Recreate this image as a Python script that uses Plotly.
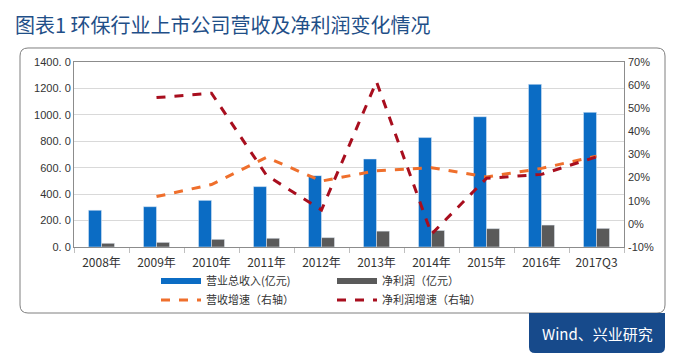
import plotly.graph_objects as go

categories = ["2008年", "2009年", "2010年", "2011年", "2012年", "2013年", "2014年", "2015年", "2016年", "2017Q3"]
revenue = [278, 305, 353, 457, 540, 666, 828, 986, 1231, 1019]
net_profit = [28, 35, 58, 66, 71, 120, 125, 139, 166, 141]
revenue_growth = [None, 11.8, 17.0, 28.8, 18.5, 23.0, 24.3, 20.3, 24.0, 29.3]
profit_growth = [None, 54.6, 56.5, 21.0, 6.0, 61.5, -4.4, 19.7, 21.4, 29.0]
left_ticks = [0, 200, 400, 600, 800, 1000, 1200, 1400]
left_tick_text = ["0. 0", "200. 0", "400. 0", "600. 0", "800. 0", "1000. 0", "1200. 0", "1400. 0"]
right_ticks = [-10, 0, 10, 20, 30, 40, 50, 60, 70]
right_tick_text = ["-10%", "0%", "10%", "20%", "30%", "40%", "50%", "60%", "70%"]

# the page body has an 8px margin, so the figure is drawn 8px right/down
OFF = 8
W, H = 674 - OFF, 360 - OFF
L, R, T, B = 74 - OFF, 624 - OFF, 62 - OFF, 247 - OFF


def px(x):
    return (x - OFF - L) / (R - L)


def py(y):
    return (B - (y - OFF)) / (B - T)


BLUE = "#0b6cc4"
GRAY = "#5a5a5a"
ORANGE = "#ef6f2c"
DRED = "#a80e1e"
CJK = "Noto Sans CJK SC"

fig = go.Figure()
fig.add_trace(go.Bar(x=categories, y=revenue, marker_color=BLUE, showlegend=False, name="营业总收入(亿元)"))
fig.add_trace(go.Bar(x=categories, y=net_profit, marker_color=GRAY, showlegend=False, name="净利润（亿元）"))
fig.add_trace(go.Scatter(x=categories, y=revenue_growth, mode="lines", yaxis="y2",
                         line=dict(color=ORANGE, width=3, dash="dash"), showlegend=False,
                         name="营收增速（右轴）"))
fig.add_trace(go.Scatter(x=categories, y=profit_growth, mode="lines", yaxis="y2",
                         line=dict(color=DRED, width=3, dash="dash"), showlegend=False,
                         name="净利润增速（右轴）"))

# legend entries
fig.add_trace(go.Scatter(x=[None], y=[None], mode="lines", line=dict(color=BLUE, width=6),
                         name="营业总收入(亿元)", legend="legend"))
fig.add_trace(go.Scatter(x=[None], y=[None], mode="lines", line=dict(color=GRAY, width=6),
                         name="净利润（亿元）", legend="legend"))
fig.add_trace(go.Scatter(x=[None], y=[None], mode="lines", line=dict(color=ORANGE, width=3, dash="dash"),
                         name="营收增速（右轴）", legend="legend2"))
fig.add_trace(go.Scatter(x=[None], y=[None], mode="lines", line=dict(color=DRED, width=3, dash="dash"),
                         name="净利润增速（右轴）", legend="legend2"))

legend_common = dict(orientation="h", xanchor="left", yanchor="middle", bgcolor="rgba(0,0,0,0)",
                     font=dict(family=CJK, size=11, color="#333333"), entrywidth=121,
                     itemwidth=40, tracegroupgap=0)

fig.update_layout(
    width=W, height=H,
    margin=dict(l=L, r=W - R, t=T, b=H - B),
    paper_bgcolor="white", plot_bgcolor="white",
    barmode="group", bargap=0.527, bargroupgap=0,
    font=dict(family="Liberation Sans", size=11, color="#333333"),
    legend=dict(x=px(156), y=py(281), **legend_common),
    legend2=dict(x=px(156), y=py(300), **legend_common),
    xaxis=dict(showline=True, linecolor="#8c8c8c", mirror=True, ticks="outside", tickson="boundaries",
               ticklen=5, tickcolor="#bfbfbf", ticklabelstandoff=5,
               tickfont=dict(family=CJK, size=12, color="#333333")),
    yaxis=dict(range=[0, 1400], tickvals=left_ticks, ticktext=left_tick_text, showgrid=True,
               gridcolor="#d9d9d9", showline=True, linecolor="#8c8c8c", mirror=True, zeroline=False,
               ticks="", tickfont=dict(size=11, color="#333333")),
    yaxis2=dict(range=[-10, 70], tickvals=right_ticks, ticktext=right_tick_text, overlaying="y",
                side="right", showgrid=False, zeroline=False, showline=False, ticklabelstandoff=3,
                tickfont=dict(size=11, color="#333333")),
)


def rounded_path(x0, y0, x1, y1, r, top=True, bottom=True):
    # page-pixel coordinates -> paper path with rounded corners
    def P(x, y):
        return f"{px(x):.5f},{py(y):.5f}"
    rt = r if top else 0
    rb = r if bottom else 0
    d = f"M {P(x0 + rt, y0)} L {P(x1 - rt, y0)} "
    d += f"Q {P(x1, y0)} {P(x1, y0 + rt)} " if rt else ""
    d += f"L {P(x1, y1 - rb)} "
    d += f"Q {P(x1, y1)} {P(x1 - rb, y1)} " if rb else ""
    d += f"L {P(x0 + rb, y1)} "
    d += f"Q {P(x0, y1)} {P(x0, y1 - rb)} " if rb else ""
    d += f"L {P(x0, y0 + rt)} "
    d += f"Q {P(x0, y0)} {P(x0 + rt, y0)} " if rt else ""
    return d + "Z"


fig.add_shape(type="path", xref="paper", yref="paper", path=rounded_path(20, 48, 665, 313, 8),
              line=dict(color="#7f7f7f", width=1), fillcolor="rgba(0,0,0,0)", layer="below")
fig.add_shape(type="path", xref="paper", yref="paper", path=rounded_path(529, 313, 665, 353, 6, top=False),
              line=dict(width=0), fillcolor="#174a8b")

fig.add_annotation(text="图表1 环保行业上市公司营收及净利润变化情况", xref="paper", yref="paper",
                   x=px(13), y=py(OFF), xanchor="left", yanchor="top", showarrow=False,
                   font=dict(family=CJK, size=20, color="#1f4f88"))
fig.add_annotation(text="Wind、兴业研究", xref="paper", yref="paper", x=px(597), y=py(333),
                   xanchor="center", yanchor="middle", showarrow=False,
                   font=dict(family=CJK, size=15, color="white"))

fig.write_html("out.html")
